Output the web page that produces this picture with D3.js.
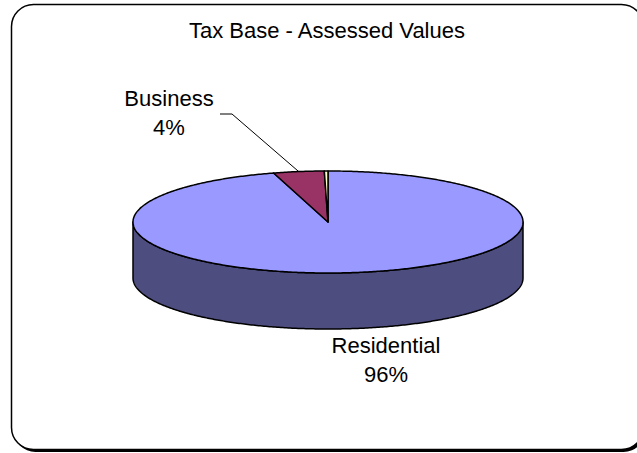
<!DOCTYPE html>
<html>
<head>
<meta charset="utf-8">
<script src="https://cdn.jsdelivr.net/npm/d3@7"></script>
<style>
  html, body { margin: 0; padding: 0; background: #ffffff; }
  svg { display: block; }
  text { font-family: "Liberation Sans", Arial, sans-serif; fill: #000; }
</style>
</head>
<body>
<div id="chart"></div>
<script>
// ---- data ----
const title = "Tax Base - Assessed Values";
const categories = ["Residential", "Business", "Other"];
const values = [95.5, 4.2, 0.3];
const showLabel = [true, true, false];
const topColors = ["#9999FF", "#993366", "#FFFFCC"];
const sideColors = ["#4D4D80", "#4D1A33", "#80806A"];

// ---- layout ----
const W = 637, H = 453;
const cx = 328, cy = 222, rx = 195, ry = 51, depth = 56;

const svg = d3.select("#chart").append("svg")
  .attr("width", W).attr("height", H);

// frame with shadow
svg.append("rect").attr("x", 13.5).attr("y", 6.5).attr("width", 632).attr("height", 445.5)
  .attr("rx", 22).attr("ry", 22).attr("fill", "#000");
svg.append("rect").attr("x", 11.5).attr("y", 4.5).attr("width", 632).attr("height", 445)
  .attr("rx", 22).attr("ry", 22).attr("fill", "#fff").attr("stroke", "#000").attr("stroke-width", 1.5);

// title
svg.append("text").attr("x", 327).attr("y", 38).attr("text-anchor", "middle")
  .attr("font-size", 22).text(title);

const total = d3.sum(values);
const pie = d3.pie().sort(null).startAngle(0).endAngle(2 * Math.PI);
const arcs = pie(values);
const topScale = d3.scaleOrdinal().domain(categories).range(topColors);
const sideScale = d3.scaleOrdinal().domain(categories).range(sideColors);

const px = a => cx + rx * Math.sin(a);
const py = (a, dy = 0) => cy - ry * Math.cos(a) + dy;

function arcPts(a0, a1, dy) {
  const n = Math.max(2, Math.ceil(Math.abs(a1 - a0) / 0.01));
  const pts = [];
  for (let i = 0; i <= n; i++) {
    const a = a0 + (a1 - a0) * i / n;
    pts.push([px(a), py(a, dy)]);
  }
  return pts;
}
const line = d3.line();

// sides (front half: angles between PI/2 and 3PI/2)
arcs.forEach((d, i) => {
  const a0 = Math.max(d.startAngle, Math.PI / 2);
  const a1 = Math.min(d.endAngle, 3 * Math.PI / 2);
  if (a1 <= a0) return;
  const pts = arcPts(a0, a1, 0).concat(arcPts(a1, a0, depth));
  svg.append("path").attr("d", line(pts) + "Z")
    .attr("fill", sideScale(categories[i]))
    .attr("stroke", "#000").attr("stroke-width", 1.5).attr("stroke-linejoin", "round");
});

// top faces
arcs.forEach((d, i) => {
  const pts = [[cx, cy]].concat(arcPts(d.startAngle, d.endAngle, 0));
  svg.append("path").attr("d", line(pts) + "Z")
    .attr("fill", topScale(categories[i]))
    .attr("stroke", "#000").attr("stroke-width", 1.5).attr("stroke-linejoin", "round");
});

// labels
const labelPos = [[386, 353], [169, 106]];
const fmt = v => Math.round(v / total * 100) + "%";
arcs.forEach((d, i) => {
  if (!showLabel[i]) return;
  const [lx, ly] = labelPos[i];
  const t = svg.append("text").attr("text-anchor", "middle").attr("font-size", 22);
  t.append("tspan").attr("x", lx).attr("y", ly).text(categories[i]);
  t.append("tspan").attr("x", lx).attr("y", ly + 29).text(fmt(values[i]));
});

// leader line for Business
const bArc = arcs[1];
const mid = (bArc.startAngle + bArc.endAngle) / 2;
svg.append("path")
  .attr("d", line([[220, 114], [232, 114], [px(mid), py(mid)]]))
  .attr("fill", "none").attr("stroke", "#000").attr("stroke-width", 1);
</script>
</body>
</html>
